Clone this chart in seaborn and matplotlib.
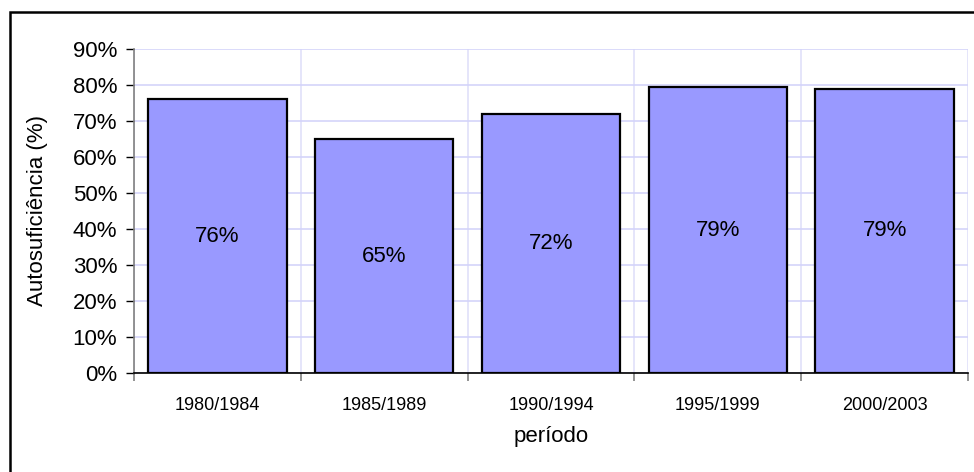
import matplotlib
matplotlib.use("Agg")
import matplotlib.pyplot as plt
from matplotlib.patches import Rectangle
from matplotlib.ticker import FixedLocator, PercentFormatter
import seaborn as sns
import pandas as pd

# Self-sufficiency by period
periodos = ["1980/1984", "1985/1989", "1990/1994", "1995/1999", "2000/2003"]
autosuficiencia = [0.76, 0.65, 0.72, 0.794, 0.789]
y_ticks = [0.0, 0.1, 0.2, 0.3, 0.4, 0.5, 0.6, 0.7, 0.8, 0.9]

df = pd.DataFrame({"periodo": periodos, "valor": autosuficiencia})

sns.set_theme(style="white")
plt.rcParams["font.family"] = ["Liberation Sans", "DejaVu Sans"]

fig = plt.figure(figsize=(9.74, 4.72), dpi=100)
ax = fig.add_axes([134 / 974, 99 / 472, 834 / 974, 324 / 472])

sns.barplot(data=df, x="periodo", y="valor", ax=ax, color="#9999FF",
            saturation=1, width=0.83, edgecolor="black", linewidth=1.6,
            zorder=3)

ax.set_xlim(-0.5, len(periodos) - 0.5)
ax.set_ylim(0, 0.9)
ax.yaxis.set_major_locator(FixedLocator(y_ticks))
ax.yaxis.set_major_formatter(PercentFormatter(1.0, decimals=0))

# category boundaries carry the ticks and vertical grid lines
ax.set_xticks(range(len(periodos)))
ax.set_xticklabels(periodos)
ax.set_xticks([i - 0.5 for i in range(len(periodos) + 1)], minor=True)
ax.tick_params(axis="x", which="major", length=0, pad=17, labelsize=13,
               labelcolor="black")
ax.tick_params(axis="x", which="minor", length=6, width=1.2, color="#808080",
               direction="out", bottom=True)
ax.tick_params(axis="y", which="major", length=6, width=1, color="black",
               direction="out", left=True, pad=6, labelsize=16,
               labelcolor="black")

ax.grid(axis="y", which="major", color="#D4D4FA", linewidth=1.2, zorder=0)
ax.grid(axis="x", which="minor", color="#E0E0FA", linewidth=1.2, zorder=0)
ax.set_axisbelow(True)

for side in ("top", "right"):
    ax.spines[side].set_visible(False)
ax.spines["left"].set_color("#808080")
ax.spines["left"].set_linewidth(1.2)
ax.spines["bottom"].set_color("black")
ax.spines["bottom"].set_linewidth(1.2)

ax.set_ylabel("Autosuficiência (%)", fontsize=16, color="black", labelpad=18)
ax.set_xlabel("período", fontsize=16, color="black", labelpad=9)

for cont in ax.containers:
    ax.bar_label(cont, fmt="{:.0%}", label_type="center", fontsize=16,
                 color="black")

# outer chart frame
fig.patches.append(Rectangle((10 / 974, -0.1), 1.2, (472 - 11.5) / 472 + 0.1,
                             transform=fig.transFigure, fill=False,
                             edgecolor="black", linewidth=1.8))

fig.savefig("out.png", dpi=100)
